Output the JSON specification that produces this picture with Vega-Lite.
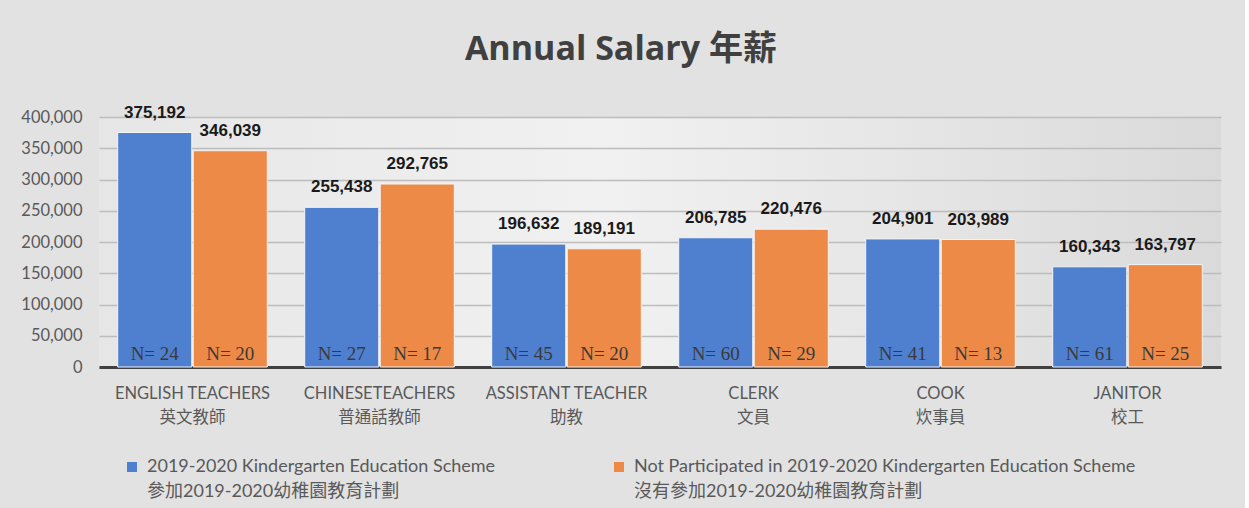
{
  "$schema": "https://vega.github.io/schema/vega-lite/v6.json",
  "width": 1122,
  "height": 250,
  "autosize": {"type": "pad"},
  "padding": {"left": 20, "top": 32, "right": 24, "bottom": 5},
  "background": "#e2e2e2",
  "title": {
    "text": "Annual Salary 年薪",
    "font": "Open Sans, Noto Sans CJK TC",
    "fontSize": 34,
    "fontWeight": "bold",
    "color": "#404040",
    "anchor": "middle",
    "frame": "bounds",
    "offset": 37
  },
  "data": {
    "values": [
      {"job": "ENGLISH TEACHERS|英文教師", "group": "2019-2020 Kindergarten Education Scheme|參加2019-2020幼稚園教育計劃", "salary": 375192, "n": "N= 24"},
      {"job": "ENGLISH TEACHERS|英文教師", "group": "Not Participated in 2019-2020 Kindergarten Education Scheme|沒有參加2019-2020幼稚園教育計劃", "salary": 346039, "n": "N= 20"},
      {"job": "CHINESETEACHERS|普通話教師", "group": "2019-2020 Kindergarten Education Scheme|參加2019-2020幼稚園教育計劃", "salary": 255438, "n": "N= 27"},
      {"job": "CHINESETEACHERS|普通話教師", "group": "Not Participated in 2019-2020 Kindergarten Education Scheme|沒有參加2019-2020幼稚園教育計劃", "salary": 292765, "n": "N= 17"},
      {"job": "ASSISTANT TEACHER|助教", "group": "2019-2020 Kindergarten Education Scheme|參加2019-2020幼稚園教育計劃", "salary": 196632, "n": "N= 45"},
      {"job": "ASSISTANT TEACHER|助教", "group": "Not Participated in 2019-2020 Kindergarten Education Scheme|沒有參加2019-2020幼稚園教育計劃", "salary": 189191, "n": "N= 20"},
      {"job": "CLERK|文員", "group": "2019-2020 Kindergarten Education Scheme|參加2019-2020幼稚園教育計劃", "salary": 206785, "n": "N= 60"},
      {"job": "CLERK|文員", "group": "Not Participated in 2019-2020 Kindergarten Education Scheme|沒有參加2019-2020幼稚園教育計劃", "salary": 220476, "n": "N= 29"},
      {"job": "COOK|炊事員", "group": "2019-2020 Kindergarten Education Scheme|參加2019-2020幼稚園教育計劃", "salary": 204901, "n": "N= 41"},
      {"job": "COOK|炊事員", "group": "Not Participated in 2019-2020 Kindergarten Education Scheme|沒有參加2019-2020幼稚園教育計劃", "salary": 203989, "n": "N= 13"},
      {"job": "JANITOR|校工", "group": "2019-2020 Kindergarten Education Scheme|參加2019-2020幼稚園教育計劃", "salary": 160343, "n": "N= 61"},
      {"job": "JANITOR|校工", "group": "Not Participated in 2019-2020 Kindergarten Education Scheme|沒有參加2019-2020幼稚園教育計劃", "salary": 163797, "n": "N= 25"}
    ]
  },
  "encoding": {
    "x": {
      "field": "job",
      "type": "nominal",
      "sort": null,
      "scale": {"paddingInner": 0.2, "paddingOuter": 0.1},
      "axis": {
        "title": null,
        "labelAngle": 0,
        "labelExpr": "split(datum.label, '|')",
        "labelFont": "Lato, Noto Sans CJK TC",
        "labelFontSize": 16.5,
        "labelColor": "#595959",
        "labelLineHeight": 24,
        "labelPadding": 18,
        "labelLimit": 0,
        "ticks": false,
        "domain": true,
        "domainColor": "#404040",
        "domainWidth": 3,
        "grid": false
      }
    },
    "xOffset": {"field": "group", "type": "nominal", "sort": null, "scale": {"paddingInner": 0.02}}
  },
  "layer": [
    {
      "mark": {"type": "bar", "stroke": "#f4f4f4", "strokeWidth": 1},
      "encoding": {
        "y": {
          "field": "salary",
          "type": "quantitative",
          "title": null,
          "scale": {"domain": [0, 400000], "nice": false}
        },
        "color": {
          "field": "group",
          "type": "nominal",
          "sort": null,
          "scale": {"range": ["#4f7fcf", "#ee8a47"]},
          "legend": {
            "title": null,
            "orient": "bottom",
            "direction": "horizontal",
            "columns": 2,
            "columnPadding": 114,
            "padding": 24,
            "labelExpr": "split(datum.label, '|')",
            "labelFont": "Lato, Noto Sans CJK TC",
            "labelFontSize": 18,
            "labelColor": "#595959",
            "labelLimit": 0,
            "labelOffset": 6,
            "symbolType": "square",
            "symbolSize": 100,
            "symbolStrokeWidth": 0,
            "offset": 8
          }
        }
      }
    },
    {
      "mark": {"type": "text", "baseline": "bottom", "dy": -11, "font": "Liberation Sans Narrow, Liberation Sans", "fontSize": 17, "fontWeight": "bold", "color": "#1a1a1a"},
      "encoding": {
        "y": {"field": "salary", "type": "quantitative", "title": null},
        "text": {"field": "salary", "type": "quantitative", "format": ","}
      }
    },
    {
      "mark": {"type": "text", "baseline": "alphabetic", "dy": -7, "font": "Liberation Serif", "fontSize": 19, "color": "#3a3a3a"},
      "encoding": {
        "y": {"datum": 0, "title": null},
        "text": {"field": "n", "type": "nominal"}
      }
    }
  ],
  "config": {
    "style": {"guide-label": {"lineHeight": 25}},
    "axisY": {
      "values": [0, 50000, 100000, 150000, 200000, 250000, 300000, 350000, 400000],
      "format": ",.0f",
      "labelFont": "Lato",
      "labelFontSize": 16.5,
      "labelColor": "#595959",
      "labelPadding": 17,
      "labelOverlap": false,
      "ticks": false,
      "domain": false,
      "grid": true,
      "gridColor": "#bdbdbd",
      "gridWidth": 1.5
    },
    "view": {
      "stroke": null,
      "fill": {
        "gradient": "linear",
        "x1": 0, "x2": 1, "y1": 0, "y2": 0,
        "stops": [
          {"offset": 0, "color": "#e6e6e6"},
          {"offset": 0.45, "color": "#f1f1f1"},
          {"offset": 1, "color": "#dadada"}
        ]
      }
    }
  }
}
